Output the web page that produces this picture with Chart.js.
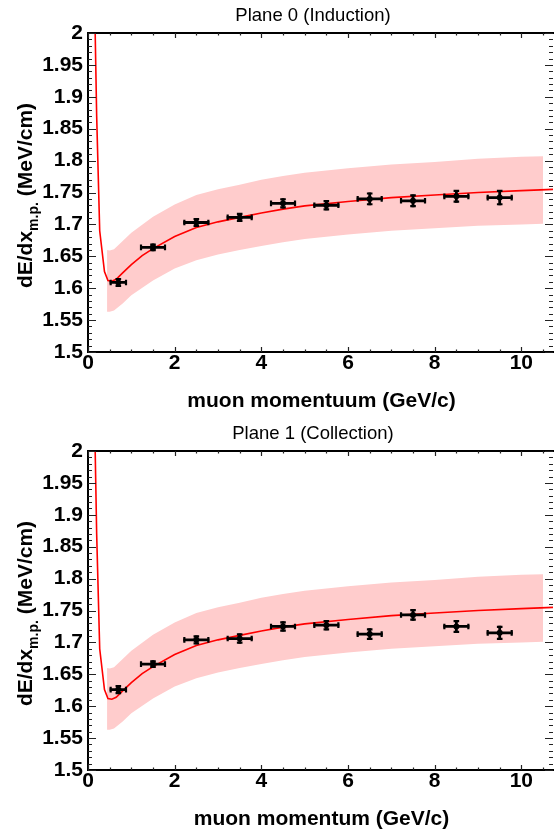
<!DOCTYPE html>
<html><head><meta charset="utf-8">
<script src="https://cdn.jsdelivr.net/npm/chart.js@4.4.1/dist/chart.umd.min.js"></script>
<style>
html,body{margin:0;padding:0;background:#fff;overflow:hidden}
.panel{position:relative;width:556px;height:418px}
</style></head><body>
<div class="panel"><canvas id="c0"></canvas></div>
<div class="panel"><canvas id="c1"></canvas></div>
<script>
// ---- data ----
const momentum = [0.7, 1.5, 2.5, 3.5, 4.5, 5.5, 6.5, 7.5, 8.5, 9.5];
const momentumErr = [0.2, 0.3, 0.3, 0.3, 0.3, 0.3, 0.3, 0.3, 0.3, 0.3];
const plane0 = [1.609, 1.664, 1.703, 1.711, 1.733, 1.730, 1.740, 1.737, 1.744, 1.742];
const plane0Err = [0.007, 0.006, 0.007, 0.007, 0.008, 0.008, 0.010, 0.010, 0.010, 0.012];
const plane1 = [1.626, 1.666, 1.704, 1.706, 1.725, 1.727, 1.713, 1.743, 1.725, 1.715];
const plane1Err = [0.007, 0.006, 0.007, 0.008, 0.008, 0.008, 0.009, 0.009, 0.010, 0.011];

const curveX = [0.15, 0.2, 0.27, 0.38, 0.46, 0.55, 0.65, 0.8, 1.0, 1.25, 1.5, 2.0, 2.5, 3.0, 3.5, 4.0, 4.5, 5.0, 6.0, 7.0, 8.0, 9.0, 10.0, 10.75];
const curveY = [2.06, 1.87, 1.69, 1.626, 1.612, 1.611, 1.614, 1.624, 1.637, 1.651, 1.662, 1.681, 1.695, 1.704, 1.711, 1.718, 1.724, 1.729, 1.736, 1.742, 1.746, 1.750, 1.753, 1.755];

const bandX = [0.44, 0.5, 0.6, 0.8, 1.0, 1.5, 2.0, 2.5, 3.0, 3.5, 4.0, 4.5, 5.0, 6.0, 7.0, 8.0, 9.0, 10.0, 10.5];
const bandUpper = [1.660, 1.659, 1.661, 1.674, 1.687, 1.712, 1.731, 1.746, 1.755, 1.762, 1.770, 1.776, 1.781, 1.788, 1.794, 1.798, 1.803, 1.806, 1.807];
const bandLower = [1.563, 1.563, 1.565, 1.576, 1.589, 1.612, 1.631, 1.644, 1.653, 1.660, 1.666, 1.672, 1.677, 1.684, 1.690, 1.694, 1.698, 1.700, 1.701];

const xTickValues = [0, 2, 4, 6, 8, 10];
const xTickLabels = ['0', '2', '4', '6', '8', '10'];
const yTickValues = [1.5, 1.55, 1.6, 1.65, 1.7, 1.75, 1.8, 1.85, 1.9, 1.95, 2];
const yTickLabels = ['1.5', '1.55', '1.6', '1.65', '1.7', '1.75', '1.8', '1.85', '1.9', '1.95', '2'];

const panels = [
  {id: 'c0', title: 'Plane 0 (Induction)', xTitle: 'muon momentuum (GeV/c)', values: plane0, errs: plane0Err},
  {id: 'c1', title: 'Plane 1 (Collection)', xTitle: 'muon momentum (GeV/c)', values: plane1, errs: plane1Err}
];

// ---- drawing ----
const FONT = '"Liberation Sans", Arial, Helvetica, sans-serif';
const PINK = '#ffcccc';
Chart.defaults.font.family = FONT;
Chart.defaults.color = '#000';

function decorPlugin(p) {
  return {
    id: 'decor',
    afterDatasetsDraw(chart) {
      const ctx = chart.ctx;
      const xs = chart.scales.x, ys = chart.scales.y;
      // error bars
      ctx.save();
      ctx.strokeStyle = '#000';
      ctx.lineCap = 'butt';
      for (let i = 0; i < momentum.length; i++) {
        const cx = xs.getPixelForValue(momentum[i]);
        const cy = ys.getPixelForValue(p.values[i]);
        const x0 = xs.getPixelForValue(momentum[i] - momentumErr[i]);
        const x1 = xs.getPixelForValue(momentum[i] + momentumErr[i]);
        const y0 = ys.getPixelForValue(p.values[i] - p.errs[i]);
        const y1 = ys.getPixelForValue(p.values[i] + p.errs[i]);
        ctx.lineWidth = 2.8;
        ctx.beginPath();
        ctx.moveTo(x0, cy); ctx.lineTo(x1, cy);
        ctx.moveTo(cx, y0); ctx.lineTo(cx, y1);
        ctx.stroke();
        ctx.lineWidth = 2.2;
        ctx.beginPath();
        ctx.moveTo(x0 + 1, cy - 2.8); ctx.lineTo(x0 + 1, cy + 2.8);
        ctx.moveTo(x1 - 1, cy - 2.8); ctx.lineTo(x1 - 1, cy + 2.8);
        ctx.moveTo(cx - 2.8, y0 - 1); ctx.lineTo(cx + 2.8, y0 - 1);
        ctx.moveTo(cx - 2.8, y1 + 1); ctx.lineTo(cx + 2.8, y1 + 1);
        ctx.stroke();
      }
      ctx.restore();
    },
    afterDraw(chart) {
      const ctx = chart.ctx;
      const a = chart.chartArea;
      const xs = chart.scales.x, ys = chart.scales.y;
      ctx.save();
      // frame
      ctx.strokeStyle = '#000';
      ctx.lineWidth = 2;
      ctx.beginPath();
      ctx.moveTo(a.right + 1, a.top); ctx.lineTo(a.left, a.top);
      ctx.lineTo(a.left, a.bottom); ctx.lineTo(a.right + 1, a.bottom);
      ctx.stroke();
      // ticks (inward)
      ctx.lineWidth = 1.2;
      ctx.strokeStyle = '#222';
      ctx.beginPath();
      for (let k = 0; k <= 50; k++) {
        const v = ys.min + k * 0.01;
        const y = Math.round(ys.getPixelForValue(v)) + 0.5;
        const len = (k % 5 === 0) ? 8 : 4;
        ctx.moveTo(a.left, y); ctx.lineTo(a.left + len, y);
        ctx.moveTo(a.right, y); ctx.lineTo(a.right - len, y);
      }
      for (let k = 0; k * 0.5 <= xs.max; k++) {
        const v = k * 0.5;
        const x = Math.round(xs.getPixelForValue(v)) + 0.5;
        const len = (k % 4 === 0) ? 5 : 2.5;
        ctx.moveTo(x, a.bottom); ctx.lineTo(x, a.bottom - len);
        ctx.moveTo(x, a.top); ctx.lineTo(x, a.top + len);
      }
      ctx.stroke();
      // title
      ctx.fillStyle = '#000';
      ctx.textAlign = 'center';
      ctx.textBaseline = 'middle';
      ctx.font = '18.5px ' + FONT;
      ctx.fillText(p.title, 313, 16);
      // x title
      ctx.font = 'bold 21px ' + FONT;
      ctx.fillText(p.xTitle, (a.left + a.right) / 2 + 1, 401);
      // y title with subscript
      const main1 = 'dE/dx', sub = 'm.p.', main2 = ' (MeV/cm)';
      const fMain = 'bold 21px ' + FONT, fSub = 'bold 14px ' + FONT;
      ctx.font = fMain; const w1 = ctx.measureText(main1).width, w3 = ctx.measureText(main2).width;
      ctx.font = fSub; const w2 = ctx.measureText(sub).width;
      const total = w1 + w2 + w3;
      ctx.translate(24, (a.top + a.bottom) / 2 + 3);
      ctx.rotate(-Math.PI / 2);
      ctx.textAlign = 'left';
      ctx.textBaseline = 'alphabetic';
      let x = -total / 2;
      ctx.font = fMain; ctx.fillText(main1, x, 7.5); x += w1;
      ctx.font = fSub; ctx.fillText(sub, x, 13.5); x += w2;
      ctx.font = fMain; ctx.fillText(main2, x, 7.5);
      ctx.restore();
    }
  };
}

panels.forEach(p => {
  const ctx = document.getElementById(p.id).getContext('2d');
  new Chart(ctx, {
    type: 'scatter',
    data: {
      datasets: [
        {type: 'line', label: 'band upper', data: bandX.map((x, i) => ({x, y: bandUpper[i]})),
         borderWidth: 0, borderColor: 'rgba(0,0,0,0)', pointRadius: 0, fill: false, backgroundColor: PINK, order: 3},
        {type: 'line', label: 'band lower', data: bandX.map((x, i) => ({x, y: bandLower[i]})),
         borderWidth: 0, borderColor: 'rgba(0,0,0,0)', pointRadius: 0, fill: '-1', backgroundColor: PINK, order: 3},
        {type: 'line', label: 'theory', data: curveX.map((x, i) => ({x, y: curveY[i]})),
         borderColor: '#ff0000', borderWidth: 1.6, pointRadius: 0, fill: false, tension: 0, order: 2},
        {type: 'scatter', label: 'data', data: momentum.map((x, i) => ({x, y: p.values[i]})),
         pointRadius: 3, pointHoverRadius: 3, backgroundColor: '#000', borderColor: '#000', borderWidth: 0, order: 1}
      ]
    },
    options: {
      responsive: true,
      maintainAspectRatio: false,
      animation: false,
      events: [],
      layout: {padding: {top: 33, right: 0, left: 0, bottom: 0}},
      plugins: {legend: {display: false}, tooltip: {enabled: false}, title: {display: false}},
      scales: {
        x: {
          type: 'linear', min: 0, max: 10.73,
          afterBuildTicks: s => { s.ticks = xTickValues.map(v => ({value: v})); },
          afterFit: s => { s.height = 66; },
          ticks: {callback: (v, i) => xTickLabels[i], font: {size: 21, weight: 'bold'}, color: '#000', padding: -1, maxRotation: 0, autoSkip: false},
          grid: {display: false, drawTicks: false},
          border: {display: false}
        },
        y: {
          type: 'linear', min: 1.5, max: 2,
          afterBuildTicks: s => { s.ticks = yTickValues.map(v => ({value: v})); },
          afterFit: s => { s.width = 88; },
          ticks: {callback: (v, i) => yTickLabels[i], font: {size: 21, weight: 'bold'}, color: '#000', padding: 5, autoSkip: false},
          grid: {display: false, drawTicks: false},
          border: {display: false}
        }
      }
    },
    plugins: [decorPlugin(p)]
  });
});
</script>
</body></html>
